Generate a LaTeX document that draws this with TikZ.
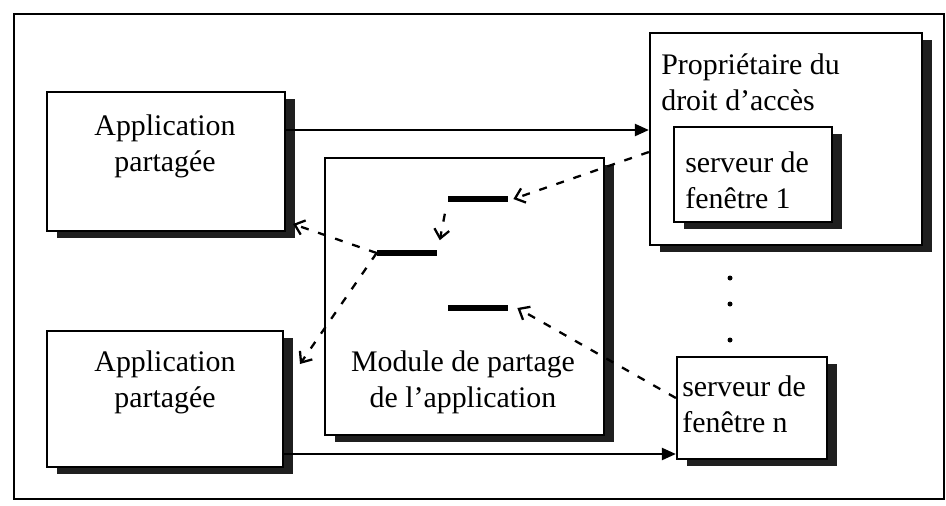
\documentclass[tikz,border=0pt]{standalone}
\usepackage{fontspec}
\setmainfont{Liberation Serif}
\usepackage{tikz}
\usetikzlibrary{arrows.meta}
\usetikzlibrary{shadows}

\tikzset{
  box/.style={draw, line width=1.3pt, fill=white, inner sep=0pt,
    drop shadow={shadow xshift=0.2cm, shadow yshift=-0.14cm, fill=black!88, opacity=1}},
  txt/.style={inner sep=0pt, align=center, font=\fontsize{17}{20.5}\selectfont},
  bar/.style={fill=black, inner sep=0pt, minimum width=1.2cm, minimum height=0.12cm},
  flow/.style={-{Triangle[length=0.28cm,width=0.24cm]}, line width=1.3pt},
  ctrl/.style={-{Straight Barb[length=0.18cm,width=0.3cm]}, line width=1.3pt, dash pattern=on 0.16cm off 0.2cm},
}

\begin{document}
\begin{tikzpicture}[x=0.02cm, y=-0.02cm]
   \useasboundingbox (0,0) rectangle (946,505);
   \draw[line width=1.2pt] (14,14) rectangle (944,499);

   % boites
   \node[box, minimum width=4.76cm, minimum height=2.78cm] (app1) at (166,161.5) {};
   \node[box, minimum width=4.72cm, minimum height=2.72cm] (app2) at (165,399) {};
   \node[box, minimum width=5.58cm, minimum height=5.54cm] (module) at (464.5,296.5) {};
   \node[box, minimum width=5.44cm, minimum height=4.24cm] (owner) at (786,139) {};
   \node[box, minimum width=3.16cm, minimum height=1.9cm] (srv1) at (753,174.5) {};
   \node[box, minimum width=3cm, minimum height=2.04cm] (srvn) at (752,408) {};

   % textes
   \node[txt] (app1txt) at (165,146) {Application\\partagée};
   \node[txt] (app2txt) at (165,382) {Application\\partagée};
   \node[txt] (moduletxt) at (463,382) {Module de partage\\de l’application};
   \node[txt, align=left, anchor=west] (ownertxt) at (661,82) {Propriétaire du\\droit d’accès};
   \node[txt, align=left, anchor=west] (srv1txt) at (685,180) {serveur de\\fenêtre 1};
   \node[txt, align=left, anchor=west] (srvntxt) at (682,404) {serveur de\\fenêtre n};

   % barres du module
   \node[bar] (bar1) at (478,199) {};
   \node[bar] (bar2) at (407,253) {};
   \node[bar] (bar3) at (478,308) {};

   \foreach \y in {278,304,340}
      \fill (730,\y) circle (0.05cm);

   % fleches pleines
   \draw[flow] ([yshift=0.63cm]app1.east) -- ([yshift=0.63cm]app1.east -| owner.west);
   \draw[flow] ([yshift=-1.1cm]app2.east) -- ([yshift=-1.1cm]app2.east -| srvn.west);

   % fleches pointillees
   \coordinate (app1in) at (293,224);
   \coordinate (app2in) at (300,364);
   \draw[ctrl] ([yshift=-0.26cm]owner.west) -- ([xshift=0.1cm]bar1.east);
   \draw[ctrl, shorten <=0.3cm, shorten >=0.26cm] (bar1.west) -- (bar2.east);
   \draw[ctrl] (bar2.west) -- (app1in);
   \draw[ctrl] (bar2.west) -- (app2in);
   \draw[ctrl] ([yshift=0.2cm]srvn.west) -- ([xshift=0.18cm]bar3.east);
\end{tikzpicture}
\end{document}
